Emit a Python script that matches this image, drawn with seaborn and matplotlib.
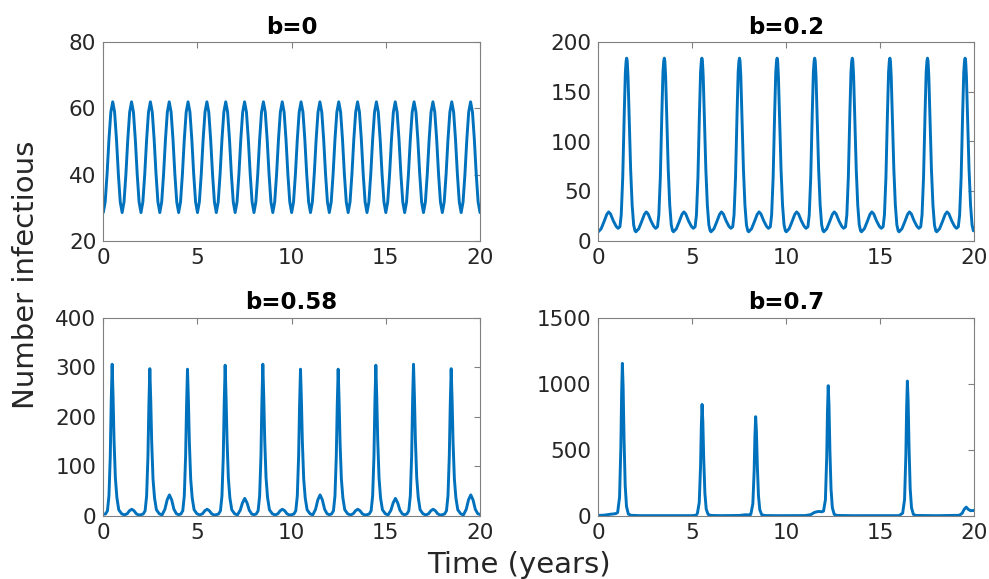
import numpy as np
import matplotlib
matplotlib.use("Agg")
import matplotlib.pyplot as plt
import seaborn as sns

# Data (number infectious vs time in years)
titles = ["b=0", "b=0.2", "b=0.58", "b=0.7"]

# b=0 sampled every 0.1 year
t_b0 = np.linspace(0, 20, 201)
i_b0 = [
    28.5, 31.7, 40.1, 50.6, 58.9, 62.0, 58.9, 50.6, 40.1, 31.7,
    28.5, 31.7, 40.1, 50.6, 58.9, 62.0, 58.9, 50.6, 40.1, 31.7,
    28.5, 31.7, 40.1, 50.6, 58.9, 62.0, 58.9, 50.6, 40.1, 31.7,
    28.5, 31.7, 40.1, 50.6, 58.9, 62.0, 58.9, 50.6, 40.1, 31.7,
    28.5, 31.7, 40.1, 50.6, 58.9, 62.0, 58.9, 50.6, 40.1, 31.7,
    28.5, 31.7, 40.1, 50.6, 58.9, 62.0, 58.9, 50.6, 40.1, 31.7,
    28.5, 31.7, 40.1, 50.6, 58.9, 62.0, 58.9, 50.6, 40.1, 31.7,
    28.5, 31.7, 40.1, 50.6, 58.9, 62.0, 58.9, 50.6, 40.1, 31.7,
    28.5, 31.7, 40.1, 50.6, 58.9, 62.0, 58.9, 50.6, 40.1, 31.7,
    28.5, 31.7, 40.1, 50.6, 58.9, 62.0, 58.9, 50.6, 40.1, 31.7,
    28.5, 31.7, 40.1, 50.6, 58.9, 62.0, 58.9, 50.6, 40.1, 31.7,
    28.5, 31.7, 40.1, 50.6, 58.9, 62.0, 58.9, 50.6, 40.1, 31.7,
    28.5, 31.7, 40.1, 50.6, 58.9, 62.0, 58.9, 50.6, 40.1, 31.7,
    28.5, 31.7, 40.1, 50.6, 58.9, 62.0, 58.9, 50.6, 40.1, 31.7,
    28.5, 31.7, 40.1, 50.6, 58.9, 62.0, 58.9, 50.6, 40.1, 31.7,
    28.5, 31.7, 40.1, 50.6, 58.9, 62.0, 58.9, 50.6, 40.1, 31.7,
    28.5, 31.7, 40.1, 50.6, 58.9, 62.0, 58.9, 50.6, 40.1, 31.7,
    28.5, 31.7, 40.1, 50.6, 58.9, 62.0, 58.9, 50.6, 40.1, 31.7,
    28.5, 31.7, 40.1, 50.6, 58.9, 62.0, 58.9, 50.6, 40.1, 31.7,
    28.5, 31.7, 40.1, 50.6, 58.9, 62.0, 58.9, 50.6, 40.1, 31.7,
    28.5,
]

t_b02 = [
    0.00, 0.15, 0.30, 0.45, 0.55, 0.65, 0.80, 0.95, 1.05, 1.15, 1.22, 1.30, 1.38, 1.44, 1.48, 1.51, 1.54, 1.58, 1.64, 1.72, 1.80, 1.88, 1.95,
    2.00, 2.15, 2.30, 2.45, 2.55, 2.65, 2.80, 2.95, 3.05, 3.15, 3.22, 3.30, 3.38, 3.44, 3.48, 3.51, 3.54, 3.58, 3.64, 3.72, 3.80, 3.88, 3.95,
    4.00, 4.15, 4.30, 4.45, 4.55, 4.65, 4.80, 4.95, 5.05, 5.15, 5.22, 5.30, 5.38, 5.44, 5.48, 5.51, 5.54, 5.58, 5.64, 5.72, 5.80, 5.88, 5.95,
    6.00, 6.15, 6.30, 6.45, 6.55, 6.65, 6.80, 6.95, 7.05, 7.15, 7.22, 7.30, 7.38, 7.44, 7.48, 7.51, 7.54, 7.58, 7.64, 7.72, 7.80, 7.88, 7.95,
    8.00, 8.15, 8.30, 8.45, 8.55, 8.65, 8.80, 8.95, 9.05, 9.15, 9.22, 9.30, 9.38, 9.44, 9.48, 9.51, 9.54, 9.58, 9.64, 9.72, 9.80, 9.88, 9.95,
    10.00, 10.15, 10.30, 10.45, 10.55, 10.65, 10.80, 10.95, 11.05, 11.15, 11.22, 11.30, 11.38, 11.44, 11.48, 11.51, 11.54, 11.58, 11.64, 11.72, 11.80, 11.88, 11.95,
    12.00, 12.15, 12.30, 12.45, 12.55, 12.65, 12.80, 12.95, 13.05, 13.15, 13.22, 13.30, 13.38, 13.44, 13.48, 13.51, 13.54, 13.58, 13.64, 13.72, 13.80, 13.88, 13.95,
    14.00, 14.15, 14.30, 14.45, 14.55, 14.65, 14.80, 14.95, 15.05, 15.15, 15.22, 15.30, 15.38, 15.44, 15.48, 15.51, 15.54, 15.58, 15.64, 15.72, 15.80, 15.88, 15.95,
    16.00, 16.15, 16.30, 16.45, 16.55, 16.65, 16.80, 16.95, 17.05, 17.15, 17.22, 17.30, 17.38, 17.44, 17.48, 17.51, 17.54, 17.58, 17.64, 17.72, 17.80, 17.88, 17.95,
    18.00, 18.15, 18.30, 18.45, 18.55, 18.65, 18.80, 18.95, 19.05, 19.15, 19.22, 19.30, 19.38, 19.44, 19.48, 19.51, 19.54, 19.58, 19.64, 19.72, 19.80, 19.88, 19.95,
    20.00,
]
i_b02 = [
    9, 12, 19, 26.5, 29, 27, 20, 14.5, 12.5, 14, 26, 64, 128, 170, 181, 184, 181, 166, 125, 72, 36, 16, 10,
    9, 12, 19, 26.5, 29, 27, 20, 14.5, 12.5, 14, 26, 64, 128, 170, 181, 184, 181, 166, 125, 72, 36, 16, 10,
    9, 12, 19, 26.5, 29, 27, 20, 14.5, 12.5, 14, 26, 64, 128, 170, 181, 184, 181, 166, 125, 72, 36, 16, 10,
    9, 12, 19, 26.5, 29, 27, 20, 14.5, 12.5, 14, 26, 64, 128, 170, 181, 184, 181, 166, 125, 72, 36, 16, 10,
    9, 12, 19, 26.5, 29, 27, 20, 14.5, 12.5, 14, 26, 64, 128, 170, 181, 184, 181, 166, 125, 72, 36, 16, 10,
    9, 12, 19, 26.5, 29, 27, 20, 14.5, 12.5, 14, 26, 64, 128, 170, 181, 184, 181, 166, 125, 72, 36, 16, 10,
    9, 12, 19, 26.5, 29, 27, 20, 14.5, 12.5, 14, 26, 64, 128, 170, 181, 184, 181, 166, 125, 72, 36, 16, 10,
    9, 12, 19, 26.5, 29, 27, 20, 14.5, 12.5, 14, 26, 64, 128, 170, 181, 184, 181, 166, 125, 72, 36, 16, 10,
    9, 12, 19, 26.5, 29, 27, 20, 14.5, 12.5, 14, 26, 64, 128, 170, 181, 184, 181, 166, 125, 72, 36, 16, 10,
    9, 12, 19, 26.5, 29, 27, 20, 14.5, 12.5, 14, 26, 64, 128, 170, 181, 184, 181, 166, 125, 72, 36, 16, 10,
    10,
]

t_b058 = [
    0.00, 0.12, 0.22, 0.30, 0.37, 0.42, 0.47, 0.52, 0.57, 0.64, 0.72, 0.82, 0.97, 1.12, 1.27, 1.39, 1.51, 1.63, 1.75, 1.88,
    2.00, 2.12, 2.22, 2.30, 2.37, 2.42, 2.47, 2.52, 2.57, 2.64, 2.72, 2.82, 2.97, 3.12, 3.27, 3.39, 3.51, 3.63, 3.75, 3.88,
    4.00, 4.12, 4.22, 4.30, 4.37, 4.42, 4.47, 4.52, 4.57, 4.64, 4.72, 4.82, 4.97, 5.12, 5.27, 5.39, 5.51, 5.63, 5.75, 5.88,
    6.00, 6.12, 6.22, 6.30, 6.37, 6.42, 6.47, 6.52, 6.57, 6.64, 6.72, 6.82, 6.97, 7.12, 7.27, 7.39, 7.51, 7.63, 7.75, 7.88,
    8.00, 8.12, 8.22, 8.30, 8.37, 8.42, 8.47, 8.52, 8.57, 8.64, 8.72, 8.82, 8.97, 9.12, 9.27, 9.39, 9.51, 9.63, 9.75, 9.88,
    10.00, 10.12, 10.22, 10.30, 10.37, 10.42, 10.47, 10.52, 10.57, 10.64, 10.72, 10.82, 10.97, 11.12, 11.27, 11.39, 11.51, 11.63, 11.75, 11.88,
    12.00, 12.12, 12.22, 12.30, 12.37, 12.42, 12.47, 12.52, 12.57, 12.64, 12.72, 12.82, 12.97, 13.12, 13.27, 13.39, 13.51, 13.63, 13.75, 13.88,
    14.00, 14.12, 14.22, 14.30, 14.37, 14.42, 14.47, 14.52, 14.57, 14.64, 14.72, 14.82, 14.97, 15.12, 15.27, 15.39, 15.51, 15.63, 15.75, 15.88,
    16.00, 16.12, 16.22, 16.30, 16.37, 16.42, 16.47, 16.52, 16.57, 16.64, 16.72, 16.82, 16.97, 17.12, 17.27, 17.39, 17.51, 17.63, 17.75, 17.88,
    18.00, 18.12, 18.22, 18.30, 18.37, 18.42, 18.47, 18.52, 18.57, 18.64, 18.72, 18.82, 18.97, 19.12, 19.27, 19.39, 19.51, 19.63, 19.75, 19.88,
    20.00,
]
i_b058 = [
    3, 3.5, 10, 40, 120, 230, 306, 239, 153, 77, 37, 12, 4, 1.5, 4, 10, 13, 10, 4, 1.3,
    2, 3.5, 10, 40, 120, 223, 297, 232, 148, 74, 36, 12, 4, 1.5, 13, 32, 42, 32, 13, 4,
    2, 3.5, 10, 40, 120, 222, 296, 231, 148, 74, 36, 12, 4, 1.5, 4, 10, 13, 10, 4, 1.3,
    2, 3.5, 10, 40, 120, 228, 304, 237, 152, 76, 36, 12, 4, 1.5, 11, 26, 35, 26, 11, 3.5,
    2, 3.5, 10, 40, 120, 230, 306, 239, 153, 77, 37, 12, 4, 1.5, 4, 10, 13, 10, 4, 1.3,
    2, 3.5, 10, 40, 120, 222, 296, 231, 148, 74, 36, 12, 4, 1.5, 13, 32, 42, 32, 13, 4,
    2, 3.5, 10, 40, 120, 222, 296, 231, 148, 74, 36, 12, 4, 1.5, 4, 10, 13, 10, 4, 1.3,
    2, 3.5, 10, 40, 120, 228, 304, 237, 152, 76, 36, 12, 4, 1.5, 11, 26, 35, 26, 11, 3.5,
    2, 3.5, 10, 40, 120, 230, 306, 239, 153, 77, 37, 12, 4, 1.5, 4, 10, 13, 10, 4, 1.3,
    2, 3.5, 10, 40, 120, 223, 297, 232, 148, 74, 36, 12, 4, 1.5, 13, 32, 42, 32, 13, 4,
    2.5,
]

t_b07 = [
    0.0, 0.3, 0.5, 0.7, 0.85, 0.95, 1.03, 1.13, 1.20, 1.24, 1.28, 1.32, 1.37, 1.43, 1.50, 1.60, 1.75, 2.2,
    5.0, 5.20, 5.27, 5.37, 5.44, 5.48, 5.52, 5.56, 5.61, 5.67, 5.74, 5.84, 6.0, 6.5,
    7.5, 7.8, 8.0, 8.1, 8.12, 8.22, 8.29, 8.33, 8.37, 8.41, 8.46, 8.52, 8.59, 8.69, 8.85, 9.5,
    11.0, 11.3, 11.5, 11.7, 11.9, 11.98, 12.08, 12.15, 12.19, 12.23, 12.27, 12.32, 12.38, 12.45, 12.55, 12.7, 13.5,
    16.0, 16.19, 16.29, 16.36, 16.40, 16.44, 16.48, 16.53, 16.59, 16.66, 16.76, 16.9, 18.0,
    19.2, 19.35, 19.47, 19.57, 19.68, 19.8, 20.0,
]
i_b07 = [
    2, 4, 8, 12, 14, 17, 25, 140, 520, 920, 1154, 980, 577, 230, 70, 12, 3, 0.5,
    0.5, 3, 17, 100, 380, 675, 843, 715, 420, 170, 50, 10, 2, 0.5,
    2, 7, 6, 8, 15, 90, 340, 600, 750, 640, 375, 150, 45, 8, 1.5, 0.3,
    1, 8, 25, 32, 30, 35, 120, 445, 790, 985, 840, 490, 200, 60, 10, 2, 0.3,
    0.5, 20, 122, 460, 815, 1020, 870, 510, 205, 60, 10, 2, 0.3,
    3, 18, 50, 65, 48, 38, 40,
]

series = [(t_b0, i_b0), (t_b02, i_b02), (t_b058, i_b058), (t_b07, i_b07)]
ylims = [(20, 80), (0, 200), (0, 400), (0, 1500)]
yticks = [[20, 40, 60, 80], [0, 50, 100, 150, 200], [0, 100, 200, 300, 400], [0, 500, 1000, 1500]]

sns.set_style("white")
plt.rcParams["font.family"] = ["DejaVu Sans"]

line_color = "#0072BD"
text_color = "#262626"
spine_color = "#808080"

fig = plt.figure(figsize=(9.89, 5.79), dpi=100)
W, H = 989.0, 579.0
# axes boxes in pixels: left, top, right, bottom
boxes = [(103.3, 42.3, 480.0, 240.7), (598.3, 42.3, 974.3, 240.7),
         (103.3, 317.7, 480.0, 515.7), (598.3, 317.7, 974.3, 515.7)]

for k in range(4):
    l, t, r, b = boxes[k]
    ax = fig.add_axes([l / W, 1 - b / H, (r - l) / W, (b - t) / H])
    x, y = series[k]
    sns.lineplot(x=list(x), y=y, ax=ax, color=line_color, linewidth=2.1)
    ax.set_xlim(0, 20)
    ax.set_ylim(*ylims[k])
    ax.set_xticks([0, 5, 10, 15, 20])
    ax.set_yticks(yticks[k])
    ax.set_xlabel("")
    ax.set_ylabel("")
    ax.set_title(titles[k], fontsize=16.5, fontweight="bold", color="black", pad=6)
    ax.tick_params(direction="in", top=True, right=True, length=4, width=0.8,
                   color=spine_color, labelsize=15.5, labelcolor=text_color, pad=5)
    for s in ax.spines.values():
        s.set_visible(True)
        s.set_color(spine_color)
        s.set_linewidth(0.8)

fig.text(26 / W, 1 - 275 / H, "Number infectious", rotation=90, ha="center", va="center",
         fontsize=21, color=text_color)
fig.text(519 / W, 1 - 573 / H, "Time (years)", ha="center", va="baseline",
         fontsize=21, color=text_color)

fig.savefig("out.png", dpi=100)
